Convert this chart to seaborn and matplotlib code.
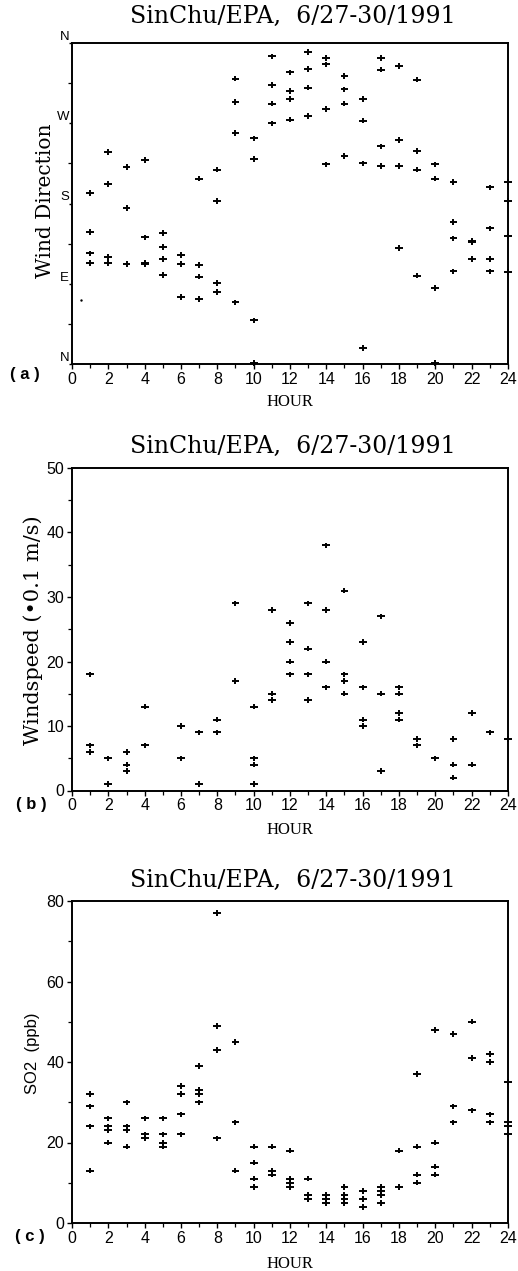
import matplotlib
matplotlib.use("Agg")
import matplotlib.pyplot as plt
import seaborn as sns
from matplotlib.path import Path
from matplotlib.ticker import MultipleLocator

# ---------------- data ----------------
# (a) wind direction (degrees, 0 = N at bottom, 360 = N at top)
dir_hours = ([1]*4 + [2]*4 + [3]*3 + [4]*4 + [5]*4 + [6]*3 + [7]*4 + [8]*4 + [9]*4 + [10]*4 +
             [11]*4 + [12]*4 + [13]*4 + [14]*4 + [15]*4 + [16]*4 + [17]*4 + [18]*4 + [19]*4 +
             [20]*4 + [21]*4 + [22]*3 + [23]*4 + [24]*4)
dir_deg = [192, 148, 124, 113,
           238, 202, 120, 113,
           221, 175, 112,
           229, 142, 112, 113,
           147, 131, 118, 100,
           122, 112, 75,
           208, 111, 98, 73,
           218, 183, 91, 81,
           320, 294, 259, 69,
           253, 230, 49, 1,
           345, 313, 292, 270,
           327, 306, 297, 274,
           350, 331, 310, 278,
           343, 336, 286, 224,
           323, 308, 292, 233,
           297, 273, 225, 18,
           343, 330, 244, 222,
           334, 251, 222, 130,
           319, 239, 218, 99,
           224, 208, 85, 1,
           204, 159, 141, 104,
           138, 137, 118,
           198, 152, 118, 104,
           204, 183, 143, 103]
dir_dot_hour = [0.5]
dir_dot_deg = [72]
dir_tick_pos = [0, 90, 180, 270, 360]
dir_tick_lab = ["N", "E", "S", "W", "N"]

# (b) wind speed (*0.1 m/s)
spd_hours = ([1]*3 + [2]*2 + [3]*3 + [4]*2 + [6]*2 + [7]*2 + [8]*2 + [9]*2 + [10]*4 + [11]*3 +
             [12]*4 + [13]*4 + [14]*4 + [15]*4 + [16]*4 + [17]*3 + [18]*4 + [19]*2 + [20]*1 +
             [21]*3 + [22]*2 + [23]*1 + [24]*1)
spd_val = [18, 7, 6,
           5, 1,
           6, 4, 3,
           13, 7,
           10, 5,
           9, 1,
           11, 9,
           29, 17,
           13, 5, 4, 1,
           28, 15, 14,
           26, 23, 20, 18,
           29, 22, 18, 14,
           38, 28, 20, 16,
           31, 18, 17, 15,
           23, 16, 11, 10,
           27, 15, 3,
           16, 15, 12, 11,
           8, 7,
           5,
           8, 4, 2,
           12, 4,
           9,
           8]

# (c) SO2 (ppb)
so2_hours = ([1]*4 + [2]*4 + [3]*4 + [4]*3 + [5]*4 + [6]*4 + [7]*4 + [8]*4 + [9]*3 + [10]*4 +
             [11]*3 + [12]*4 + [13]*3 + [14]*3 + [15]*4 + [16]*3 + [17]*4 + [18]*2 + [19]*4 +
             [20]*4 + [21]*3 + [22]*3 + [23]*4 + [24]*4)
so2_val = [32, 29, 24, 13,
           26, 24, 23, 20,
           30, 24, 23, 19,
           26, 22, 21,
           26, 22, 20, 19,
           34, 32, 27, 22,
           39, 33, 32, 30,
           77, 49, 43, 21,
           45, 25, 13,
           19, 15, 11, 9,
           19, 13, 12,
           18, 11, 10, 9,
           11, 7, 6,
           7, 6, 5,
           9, 7, 6, 5,
           8, 6, 4,
           9, 8, 7, 5,
           18, 9,
           37, 19, 12, 10,
           48, 20, 14, 12,
           47, 29, 25,
           50, 41, 28,
           42, 40, 27, 25,
           35, 25, 24, 22]

x_ticks = list(range(0, 25, 2))
title_text = "SinChu/EPA,  6/27-30/1991"

# ---------------- figure ----------------
sns.set_style("ticks")
plt.rcParams["font.family"] = ["Liberation Sans", "DejaVu Sans"]
plt.rcParams["text.color"] = "black"
plt.rcParams["xtick.color"] = "black"
plt.rcParams["ytick.color"] = "black"

W, H = 518, 1271
fig = plt.figure(figsize=(W / 100, H / 100), dpi=100)


def add_axes(top, bottom, left=72, right=508):
    return fig.add_axes([left / W, 1 - bottom / H, (right - left) / W, (bottom - top) / H])


ax_a = add_axes(43, 364)
ax_b = add_axes(468, 790.5)
ax_c = add_axes(901, 1223)

# plotter-style "+" : a bit wider than tall
plus = Path([(-1, 0), (1, 0), (0, -0.7), (0, 0.7)],
            [Path.MOVETO, Path.LINETO, Path.MOVETO, Path.LINETO])
mk = dict(marker=plus, color="black", edgecolor="black", facecolor="none", s=32,
          linewidth=1.4, legend=False)

sns.scatterplot(x=dir_hours, y=dir_deg, ax=ax_a, **mk)
sns.scatterplot(x=dir_dot_hour, y=dir_dot_deg, ax=ax_a, marker=".", color="black", s=12,
                linewidth=0, legend=False)
sns.scatterplot(x=spd_hours, y=spd_val, ax=ax_b, **mk)
sns.scatterplot(x=so2_hours, y=so2_val, ax=ax_c, **mk)

for ax in (ax_a, ax_b, ax_c):
    for coll in ax.collections:
        coll.set_clip_on(False)
    ax.set_xlim(0, 24)
    ax.set_xticks(x_ticks)
    ax.set_xticklabels([str(t) for t in x_ticks], fontsize=11.5, color="black")
    ax.xaxis.set_minor_locator(MultipleLocator(1))
    for s in ax.spines.values():
        s.set_visible(True)
        s.set_linewidth(1.4)
        s.set_color("black")
    ax.tick_params(axis="both", which="major", direction="out", length=3.5, width=1.0,
                   pad=2, colors="black")
    ax.tick_params(axis="both", which="minor", direction="out", length=3, width=0.9,
                   colors="black")
    ax.set_xlabel("")
    ax.set_ylabel("")
    ax.set_facecolor("white")

ax_a.set_ylim(0, 360)
ax_a.set_yticks(dir_tick_pos)
ax_a.set_yticklabels(dir_tick_lab, fontsize=9.5, va="bottom", color="black")
ax_a.yaxis.set_minor_locator(MultipleLocator(45))
ax_a.tick_params(axis="y", which="major", pad=0, length=2)

ax_b.set_ylim(0, 50)
ax_b.set_yticks([0, 10, 20, 30, 40, 50])
ax_b.set_yticklabels(["0", "10", "20", "30", "40", "50"], fontsize=11.5, color="black")
ax_b.yaxis.set_minor_locator(MultipleLocator(5))

ax_c.set_ylim(0, 80)
ax_c.set_yticks([0, 20, 40, 60, 80])
ax_c.set_yticklabels(["0", "20", "40", "60", "80"], fontsize=11.5, color="black")
ax_c.yaxis.set_minor_locator(MultipleLocator(10))

serif = ["DejaVu Serif"]


def ftext(x, y, s, **kw):
    fig.text(x / W, 1 - y / H, s, color="black", **kw)


for ty in (16, 446, 880):
    ftext(293, ty, title_text, ha="center", va="center", fontsize=17, family=serif)

for hy in (402, 830, 1264):
    ftext(290, hy, "HOUR", ha="center", va="center", fontsize=12,
          family=["Liberation Serif", "DejaVu Serif"])

ftext(25, 375, "( a )", ha="center", va="center", fontsize=12, fontweight="bold")
ftext(31, 805, "( b )", ha="center", va="center", fontsize=12, fontweight="bold")
ftext(30, 1236, "( c )", ha="center", va="center", fontsize=12, fontweight="bold")

ftext(46, 201, "Wind Direction", ha="center", va="center", rotation=90, fontsize=14.5,
      family=serif)
ftext(33, 630, "Windspeed (\u20220.1 m/s)", ha="center", va="center", rotation=90,
      fontsize=15, family=serif)
ftext(33, 1053, "SO2  (ppb)", ha="center", va="center", rotation=90, fontsize=12)

fig.savefig("out.png", dpi=100, facecolor="white")
